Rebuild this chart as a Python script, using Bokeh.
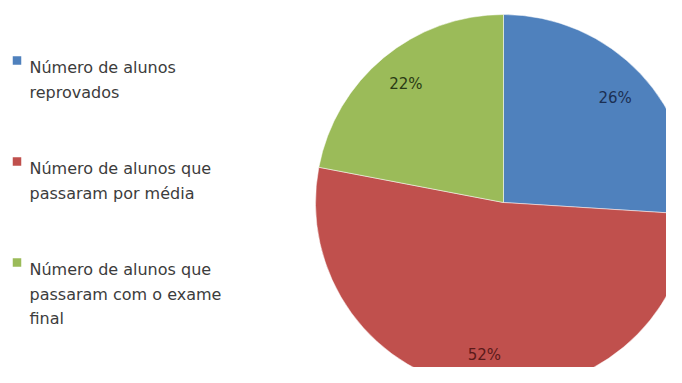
import math
from bokeh.plotting import figure
from bokeh.models import Range1d, ColumnDataSource
from bokeh.core.properties import value
from bokeh.embed import file_html
from bokeh.resources import INLINE

# ---- data ----
categories = ["Número de alunos reprovados",
              "Número de alunos que passaram por média",
              "Número de alunos que passaram com o exame final"]
legend_lines = [["Número de alunos", "reprovados"],
                ["Número de alunos que", "passaram por média"],
                ["Número de alunos que", "passaram com o exame", "final"]]
percent = [26, 52, 22]
colors = ["#4F81BD", "#C0504D", "#9BBB59"]
label_colors = ["#1B2F52", "#5A1A1A", "#2A3A14"]

W, H = 666, 367
p = figure(width=W, height=H, output_backend="svg", toolbar_location=None,
           x_range=Range1d(0, W), y_range=Range1d(0, H),
           min_border=0, background_fill_color="white", border_fill_color="white")
p.axis.visible = False
p.grid.visible = False
p.outline_line_color = None

def px(x):
    return x

def py(y):
    return H - y

cx, cy, R = px(503), py(202), 188

total = sum(percent)
starts, ends, lx, ly, texts = [], [], [], [], []
cum = 0.0
for v in percent:
    a0 = math.pi / 2 - 2 * math.pi * (cum + v) / total
    a1 = math.pi / 2 - 2 * math.pi * cum / total
    starts.append(a0)
    ends.append(a1)
    mid = (a0 + a1) / 2
    lx.append(cx + 0.815 * R * math.cos(mid))
    ly.append(cy + 0.815 * R * math.sin(mid))
    texts.append(f"{v}%")
    cum += v

src = ColumnDataSource(dict(start=starts, end=ends, color=colors))
p.wedge(x=cx, y=cy, radius=R, start_angle="start", end_angle="end",
        fill_color="color", line_color="white", line_width=0.5, source=src)

p.text(x=lx, y=ly, text=texts, text_color=label_colors,
       text_font=value("DejaVu Sans"), text_font_size="15px",
       text_align="center", text_baseline="middle")

# legend
entry_baselines = [67, 168, 269]
line_gap = 24.5
for lines, col, base in zip(legend_lines, colors, entry_baselines):
    p.rect(x=px(16.5), y=py(base - 7), width=8.5, height=8.5,
           fill_color=col, line_color=None)
    ys = [py(base + i * line_gap) for i in range(len(lines))]
    p.text(x=[px(29)] * len(lines), y=ys, text=lines, text_color="#3C3C3C",
           text_font=value("DejaVu Sans"), text_font_size="16px",
           text_align="left", text_baseline="alphabetic")

open("out.html", "w").write(file_html(p, INLINE))
